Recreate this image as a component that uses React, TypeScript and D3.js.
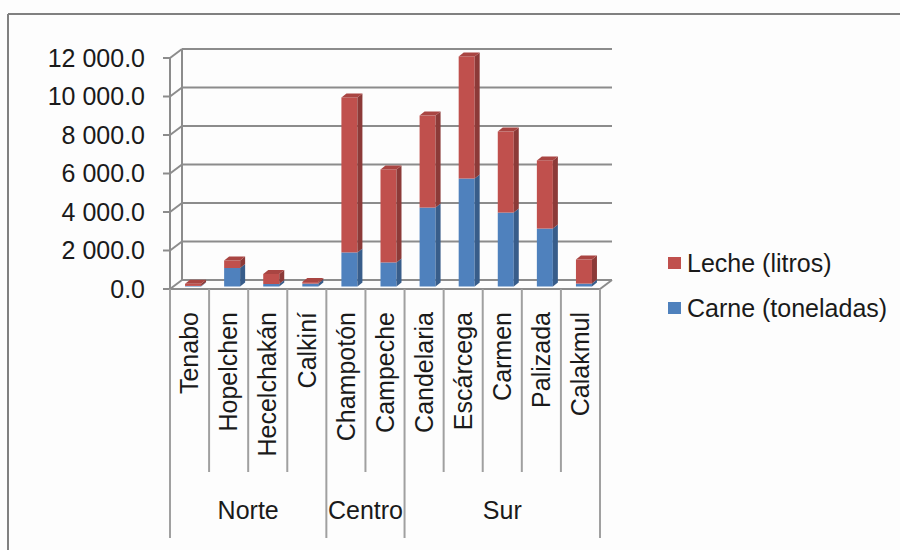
import * as d3 from "d3";

const categories = ["Tenabo", "Hopelchen", "Hecelchakán", "Calkiní", "Champotón", "Campeche", "Candelaria", "Escárcega", "Carmen", "Palizada", "Calakmul"];
const groupNames = ["Norte", "Centro", "Sur"];
const groupSizes = [4, 2, 5];
const carne = [30, 960, 130, 150, 1770, 1250, 4100, 5610, 3840, 3010, 150];
const leche = [110, 390, 520, 80, 8050, 4830, 4780, 6340, 4210, 3540, 1250];
const yTicks = [0, 2000, 4000, 6000, 8000, 10000, 12000];
const seriesNames = ["Leche (litros)", "Carne (toneladas)"];

const W = 900;
const H = 550;
const FONT = "'Liberation Sans', Arial, sans-serif";
const RED = "#c0504d";
const RED_SIDE = "#8c3a38";
const RED_TOP = "#a94542";
const BLUE = "#4f81bd";
const BLUE_SIDE = "#385d8a";
const BLUE_TOP = "#4474ab";
const GRID = "#8c8c8c";

export default function App() {
  const x = d3.scaleBand().domain(categories).range([170, 600]).paddingInner(0);
  const y = d3.scaleLinear().domain([0, 12000]).range([289, 58]);

  // floor / wall depth and bar depth
  const dx = 12, dy = -9;
  const bdx = 5, bdy = -4;
  const offX = (dx - bdx) / 2, offY = (dy - bdy) / 2;
  const bw = 16;

  const fmt = (v: number) => {
    const s = d3.format(",.1f")(v);
    return s.replace(/,/g, " ");
  };

  // stacked segments
  const stacks = categories.map((c, i) => {
    const segs = [
      { y0: 0, y1: carne[i], front: BLUE, side: BLUE_SIDE, top: BLUE_TOP },
      { y0: carne[i], y1: carne[i] + leche[i], front: RED, side: RED_SIDE, top: RED_TOP },
    ];
    return { c, segs };
  });

  // group boundaries
  let acc = 0;
  const groups = groupNames.map((g, i) => {
    const start = acc;
    acc += groupSizes[i];
    const x0 = x(categories[start]) as number;
    const x1 = (x(categories[acc - 1]) as number) + x.bandwidth();
    return { g, x0, x1 };
  });

  const groupEdges = new Set<number>();
  groups.forEach((g) => { groupEdges.add(Math.round(g.x0)); groupEdges.add(Math.round(g.x1)); });

  const catEdges = categories.map((c) => x(c) as number).concat([(x(categories[categories.length - 1]) as number) + x.bandwidth()]);

  return (
    <svg width={W} height={H} style={{ position: "absolute", left: 0, top: 0, background: "#fdfdfd" }} fontFamily={FONT}>
      <rect x={0} y={0} width={W} height={H} fill="#fdfdfd" />
      {/* outer border (top + left) */}
      <line x1={8} y1={14} x2={W} y2={14} stroke="#808080" strokeWidth={2} />
      <line x1={8} y1={14} x2={8} y2={H} stroke="#808080" strokeWidth={2} />

      {/* back wall grid + side wall diagonals */}
      {yTicks.map((t) => (
        <g key={t} stroke={GRID} strokeWidth={2} fill="none">
          <line x1={170 + dx} y1={y(t) + dy} x2={600 + dx} y2={y(t) + dy} />
          <line x1={170} y1={y(t)} x2={170 + dx} y2={y(t) + dy} />
          <line x1={163} y1={y(t)} x2={170} y2={y(t)} />
        </g>
      ))}
      <line x1={170 + dx} y1={y(0) + dy} x2={170 + dx} y2={y(12000) + dy} stroke={GRID} strokeWidth={2} />
      <line x1={170} y1={y(0)} x2={170} y2={y(12000)} stroke={GRID} strokeWidth={2} />
      {/* floor */}
      <line x1={170} y1={y(0)} x2={600} y2={y(0)} stroke={GRID} strokeWidth={2} />
      <line x1={600} y1={y(0)} x2={600 + dx} y2={y(0) + dy} stroke={GRID} strokeWidth={2} />

      {/* y tick labels */}
      {yTicks.map((t) => (
        <text key={t} x={145} y={y(t)} dy="0.35em" textAnchor="end" fontSize={25} fill="#1a1a1a">
          {fmt(t)}
        </text>
      ))}

      {/* bars */}
      {stacks.map(({ c, segs }) => {
        const bx = (x(c) as number) + x.bandwidth() / 2 - bw / 2 + offX;
        return (
          <g key={c}>
            {segs.map((s, j) => {
              const yt = y(s.y1) + offY;
              const yb = y(s.y0) + offY;
              return (
                <g key={j}>
                  <rect x={bx} y={yt} width={bw} height={Math.max(0, yb - yt)} fill={s.front} />
                  <polygon
                    points={`${bx + bw},${yt} ${bx + bw + bdx},${yt + bdy} ${bx + bw + bdx},${yb + bdy} ${bx + bw},${yb}`}
                    fill={s.side}
                  />
                  {j === segs.length - 1 && (
                    <polygon
                      points={`${bx},${yt} ${bx + bdx},${yt + bdy} ${bx + bw + bdx},${yt + bdy} ${bx + bw},${yt}`}
                      fill={s.top}
                    />
                  )}
                </g>
              );
            })}
          </g>
        );
      })}

      {/* category separators */}
      {catEdges.map((e, i) => {
        const isGroup = groupEdges.has(Math.round(e));
        return (
          <line key={i} x1={e} y1={y(0)} x2={e} y2={isGroup ? 538 : 472} stroke="#a0a0a0" strokeWidth={2} />
        );
      })}

      {/* category labels */}
      {categories.map((c) => {
        const cx = (x(c) as number) + x.bandwidth() / 2;
        return (
          <text key={c} transform={`translate(${cx},312) rotate(-90)`} textAnchor="end" dy="0.35em" fontSize={25} fill="#1a1a1a">
            {c}
          </text>
        );
      })}

      {/* group labels */}
      {groups.map((g) => (
        <text key={g.g} x={(g.x0 + g.x1) / 2} y={519} textAnchor="middle" fontSize={25} fill="#1a1a1a">
          {g.g}
        </text>
      ))}

      {/* legend */}
      {seriesNames.map((n, i) => (
        <g key={n} transform={`translate(668,${257 + i * 45})`}>
          <rect x={0} y={0} width={13} height={12} fill={i === 0 ? RED : BLUE} />
          <text x={19} y={6} dy="0.35em" fontSize={25} fill="#1a1a1a">{n}</text>
        </g>
      ))}
    </svg>
  );
}
